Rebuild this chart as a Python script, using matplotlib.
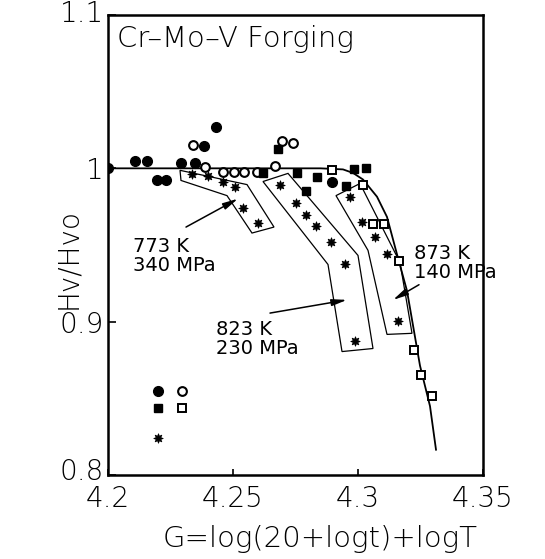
import matplotlib
matplotlib.use("Agg")
import matplotlib.pyplot as plt
from matplotlib.patches import Polygon
from matplotlib.transforms import ScaledTranslation

plt.rcParams['font.family'] = ['DejaVu Sans']
plt.rcParams['font.weight'] = 'light'

# ---- data (G, Hv/Hvo) ----
fc_G = [4.2000, 4.2108, 4.2156, 4.2196, 4.2232, 4.2292, 4.2348, 4.2384, 4.2432, 4.2896]
fc_H = [1.0000, 1.0046, 1.0046, 0.9927, 0.9927, 1.0033, 1.0033, 1.0145, 1.0271, 0.9908]

oc_G = [4.2340, 4.2388, 4.2460, 4.2504, 4.2544, 4.2596, 4.2668, 4.2696, 4.2740]
oc_H = [1.0152, 1.0007, 0.9974, 0.9974, 0.9974, 0.9974, 1.0013, 1.0178, 1.0165]

fs_G = [4.2620, 4.2680, 4.2756, 4.2792, 4.2836, 4.2952, 4.2984, 4.3032]
fs_H = [0.9967, 1.0125, 0.9967, 0.9855, 0.9941, 0.9888, 0.9993, 1.0000]

os_G = [4.2896, 4.3020, 4.3060, 4.3104, 4.3164, 4.3224, 4.3252, 4.3296]
os_H = [0.9987, 0.9894, 0.9637, 0.9637, 0.9393, 0.8812, 0.8653, 0.8515]

st773_G = [4.2336, 4.2400, 4.2460, 4.2508, 4.2540, 4.2600]
st773_H = [0.9960, 0.9947, 0.9908, 0.9875, 0.9743, 0.9644]

st823_G = [4.2688, 4.2752, 4.2792, 4.2832, 4.2892, 4.2948, 4.2988]
st823_H = [0.9894, 0.9776, 0.9696, 0.9624, 0.9518, 0.9373, 0.8871]

st873_G = [4.2968, 4.3016, 4.3068, 4.3116, 4.3160]
st873_H = [0.9815, 0.9650, 0.9551, 0.9439, 0.9003]

# symbol key (no labels in the original)
key_fc = (4.2200, 0.8548)
key_oc = (4.2296, 0.8548)
key_fs = (4.2200, 0.8436)
key_os = (4.2296, 0.8436)
key_st = (4.2200, 0.8244)

# master curve
curve_G = [4.2000, 4.2850, 4.2940, 4.2980, 4.3020, 4.3076, 4.3116, 4.3156, 4.3196, 4.3248, 4.3288, 4.3312]
curve_H = [1.0000, 1.0000, 0.9993, 0.9970, 0.9927, 0.9815, 0.9683, 0.9439, 0.9201, 0.8713, 0.8449, 0.8165]

# boxes around the star groups
box773_G = [4.2288, 4.2292, 4.2476, 4.2576, 4.2664, 4.2556]
box773_H = [0.9987, 0.9921, 0.9822, 0.9578, 0.9617, 0.9894]
box823_G = [4.2620, 4.2720, 4.3000, 4.3060, 4.2936, 4.2880]
box823_H = [0.9914, 0.9967, 0.9432, 0.8825, 0.8805, 0.9373]
box873_G = [4.2912, 4.3008, 4.3168, 4.3216, 4.3116, 4.3040]
box873_H = [0.9822, 0.9901, 0.9386, 0.8924, 0.8917, 0.9465]

labels = ["773 K\n340 MPa", "823 K\n230 MPa", "873 K\n140 MPa"]
label_xy = [(4.2100, 0.9426), (4.2432, 0.8884), (4.3224, 0.9380)]
arrow_tail = [(4.2312, 0.9617), (4.2648, 0.9056), (4.3244, 0.9241)]
arrow_head = [(4.2520, 0.9802), (4.2956, 0.9142), (4.3140, 0.9142)]

xticks = [4.2, 4.25, 4.3, 4.35]
xticklabels = ["4.2", "4.25", "4.3", "4.35"]
yticks = [0.8, 0.9, 1.0, 1.1]
yticklabels = ["0.8", "0.9", "1", "1.1"]

# ---- figure ----
fig = plt.figure(figsize=(5.45, 5.59), dpi=100)
ax = fig.add_axes([108/545, 1 - 475/559, 375/545, 460/559])
ax.set_xlim(4.2, 4.35)
ax.set_ylim(0.8, 1.1)

ax.plot(curve_G, curve_H, color='black', lw=1.3, zorder=2)

for bg, bh in [(box773_G, box773_H), (box823_G, box823_H), (box873_G, box873_H)]:
    ax.add_patch(Polygon(list(zip(bg, bh)), closed=True, fill=False,
                         edgecolor='black', lw=0.9, zorder=2))

mk = dict(linestyle='none', zorder=3, clip_on=True)
ax.plot(fc_G, fc_H, marker='o', ms=7, mfc='black', mec='black', **mk)
ax.plot(oc_G, oc_H, marker='o', ms=6.3, mfc='white', mec='black', mew=1.5, **mk)
ax.plot(fs_G, fs_H, marker='s', ms=6, mfc='black', mec='black', **mk)
ax.plot(os_G, os_H, marker='s', ms=5.6, mfc='white', mec='black', mew=1.4, **mk)
star = (8, 1, 0)
for sg, sh in [(st773_G, st773_H), (st823_G, st823_H), (st873_G, st873_H)]:
    ax.plot(sg, sh, marker=star, ms=7, mfc='black', mec='black', mew=0.5, **mk)

ax.plot(*key_fc, marker='o', ms=7, mfc='black', mec='black', **mk)
ax.plot(*key_oc, marker='o', ms=6.3, mfc='white', mec='black', mew=1.5, **mk)
ax.plot(*key_fs, marker='s', ms=6, mfc='black', mec='black', **mk)
ax.plot(*key_os, marker='s', ms=5.6, mfc='white', mec='black', mew=1.4, **mk)
ax.plot(*key_st, marker=star, ms=7, mfc='black', mec='black', mew=0.5, **mk)

for txt, xy in zip(labels, label_xy):
    ax.text(xy[0], xy[1], txt, fontsize=14, fontweight='normal', ha='left',
            va='center', linespacing=1.0, zorder=4)
for t, h in zip(arrow_tail, arrow_head):
    ax.annotate('', xy=h, xytext=t,
                arrowprops=dict(arrowstyle='-|>,head_length=0.9,head_width=0.2',
                                color='black', lw=1.1, shrinkA=0, shrinkB=0),
                zorder=4)

ax.text(0.024, 0.930, "Cr–Mo–V Forging", transform=ax.transAxes,
        fontsize=21, ha='left', va='baseline')

ax.set_xticks(xticks)
ax.set_xticklabels(xticklabels)
ax.set_yticks(yticks)
ax.set_yticklabels(yticklabels)
ax.tick_params(axis='both', direction='in', labelsize=20, width=1.2,
               top=False, right=False)
ax.tick_params(axis='x', length=4, pad=7)
ax.tick_params(axis='y', length=6, pad=3)

# nudge the outer y labels slightly, as in the original
ylabs = ax.get_yticklabels()
ylabs[0].set_transform(ylabs[0].get_transform() + ScaledTranslation(0, 4/72, fig.dpi_scale_trans))
ylabs[-1].set_transform(ylabs[-1].get_transform() + ScaledTranslation(0, 3/72, fig.dpi_scale_trans))

ax.set_xlabel("G=log(20+logt)+logT", fontsize=21, fontweight='light')
ax.set_ylabel("Hv/Hvo", fontsize=20, fontweight='light')
ax.xaxis.set_label_coords(0.565, -0.139)
ax.yaxis.set_label_coords(-0.107, 0.47)
ax.xaxis.label.set_va('center')
ax.yaxis.label.set_va('center')

for s in ax.spines.values():
    s.set_linewidth(1.8)

fig.savefig("out.png", dpi=100, facecolor='white')
